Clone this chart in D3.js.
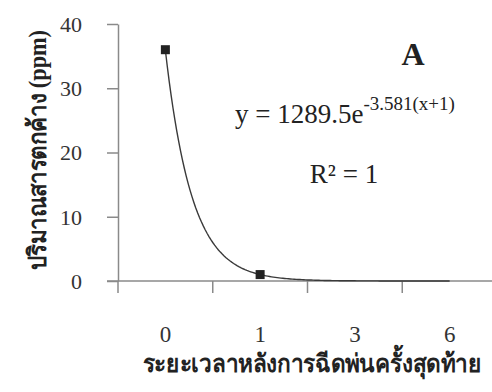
<!DOCTYPE html>
<html><head><meta charset="utf-8">
<script src="https://cdn.jsdelivr.net/npm/d3@7"></script>
<style>
html,body{margin:0;padding:0;background:#fff;}
svg{display:block;}
</style></head>
<body>
<svg id="c" width="492" height="392" font-family="Liberation Serif, Times New Roman, serif"></svg>
<script>
const categories = ["0", "1", "3", "6"];
const residueValues = [36, 1, null, null];
const yTicks = [0, 10, 20, 30, 40];
const trendA = 1289.5;
const trendB = 3.581;
const yTitle = "ปริมาณสารตกค้าง (ppm)";
const xTitle = "ระยะเวลาหลังการฉีดพ่นครั้งสุดท้าย";
const panelLabel = "A";
const rLabel = "R² = 1";

const svg = d3.select("#c");
const axisColor = "#8a8a8a";
const serif = "Liberation Serif, Times New Roman, serif";

const x = d3.scaleBand().domain(categories).range([118, 497]).paddingInner(0).paddingOuter(0);
const y = d3.scaleLinear().domain([0, 40]).range([281, 24]);

// Y axis
const yAxis = d3.axisLeft(y).tickValues(yTicks).tickSize(11).tickSizeOuter(0).tickPadding(25);
const gy = svg.append("g").attr("transform", "translate(118,0)").call(yAxis)
  .attr("font-family", serif).attr("font-size", 22);
gy.select(".domain").attr("stroke", axisColor).attr("stroke-width", 1.5);
gy.selectAll(".tick line").attr("stroke", axisColor).attr("stroke-width", 1.5);
gy.selectAll(".tick text").attr("fill", "#333").attr("dy", "0.34em");

// X axis (category style: ticks at band boundaries)
const gx = svg.append("g").attr("font-family", serif);
gx.append("line").attr("x1", 107).attr("x2", 497).attr("y1", y(0)).attr("y2", y(0))
  .attr("stroke", axisColor).attr("stroke-width", 1.5);
const bounds = categories.map(c => x(c)).concat([x(categories[categories.length - 1]) + x.bandwidth()]);
gx.selectAll("line.xt").data(bounds).join("line").attr("class", "xt")
  .attr("x1", d => d).attr("x2", d => d).attr("y1", y(0)).attr("y2", y(0) + 12)
  .attr("stroke", axisColor).attr("stroke-width", 1.5);
gx.selectAll("text.xl").data(categories).join("text").attr("class", "xl")
  .attr("x", d => x(d) + x.bandwidth() / 2).attr("y", 342)
  .attr("text-anchor", "middle").attr("fill", "#333").attr("font-size", 23).text(d => d);

// Trendline
const idx = d3.range(0, 3.001, 0.02);
const xPos = t => x(categories[0]) + x.bandwidth() * (t + 0.5);
const line = d3.line().x(t => xPos(t)).y(t => y(trendA * Math.exp(-trendB * (t + 1))));
svg.append("path").datum(idx).attr("d", line).attr("fill", "none")
  .attr("stroke", "#3a3a3a").attr("stroke-width", 1.4);

// Markers
const pts = categories.map((c, i) => ({c, v: residueValues[i]})).filter(d => d.v != null);
svg.selectAll("rect.m").data(pts).join("rect").attr("class", "m")
  .attr("x", d => x(d.c) + x.bandwidth() / 2 - 4.5).attr("y", d => y(d.v) - 4.5)
  .attr("width", 9).attr("height", 9).attr("fill", "#222");

// Texts
svg.append("text").attr("x", 413).attr("y", 65).attr("text-anchor", "middle")
  .attr("font-size", 32).attr("font-weight", "bold").attr("fill", "#222").text(panelLabel);

const eq = svg.append("text").attr("x", 235).attr("y", 123).attr("fill", "#222").attr("font-size", 27);
eq.append("tspan").text("y = 1289.5e");
eq.append("tspan").attr("dy", -13).attr("font-size", 19).text("-3.581(x+1)");

svg.append("text").attr("x", 344).attr("y", 183).attr("text-anchor", "middle")
  .attr("fill", "#222").attr("font-size", 27).text(rLabel);

svg.append("text").attr("transform", "translate(46,150) rotate(-90)").attr("text-anchor", "middle")
  .attr("fill", "#222").attr("font-size", 25).attr("font-weight", "bold")
  .attr("textLength", 240).attr("lengthAdjust", "spacingAndGlyphs").text(yTitle);

svg.append("text").attr("x", 312).attr("y", 372).attr("text-anchor", "middle")
  .attr("fill", "#222").attr("font-size", 25).attr("font-weight", "bold")
  .attr("textLength", 339).attr("lengthAdjust", "spacingAndGlyphs").text(xTitle);
</script>
</body></html>
